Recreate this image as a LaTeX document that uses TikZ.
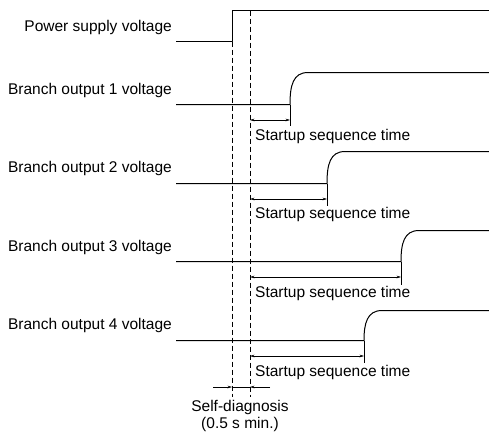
\documentclass[tikz,border=0pt]{standalone}
\usepackage{fontspec}
\setmainfont{Liberation Sans}
\usetikzlibrary{arrows.meta}
\begin{document}
\begin{tikzpicture}[x=1pt,y=-1pt,
  signal/.style={line width=1pt,line join=round},
  guide/.style={line width=0.7pt,dash pattern=on 5pt off 3pt},
  dimline/.style={line width=0.6pt},
  tip/.style={-{Stealth[length=4.5pt,width=2.6pt]}},
  twotip/.style={{Stealth[length=4.5pt,width=2.6pt]}-{Stealth[length=4.5pt,width=2.6pt]}},
  label/.style={font=\fontsize{15.5}{17}\selectfont,inner sep=0pt},
  sidelabel/.style={label,anchor=east}]
\useasboundingbox (0,0) rectangle (489,437);

% time markers: power-on edge and end of self-diagnosis
\coordinate (t0top) at (232,10.5);
\coordinate (t0low) at (232,41.5);
\coordinate (t0bot) at (232,397);
\coordinate (t1top) at (250,10.5);
\coordinate (t1bot) at (250,397);

% power supply trace
\node[sidelabel] (psl) at (172,27) {Power supply voltage};
\coordinate (ps0) at (176,41.5);
\coordinate (ps1) at (489,10.5);
\draw[signal] (ps0) -- (t0low) -- (t0top) -- (ps1);

% dashed guides
\draw[guide] (t0low) -- (t0bot);
\draw[guide] (t1top) -- (t1bot);

% branch outputs: label y, low y, high y, rise x, arrow y, tick end y, text y
\foreach \n/\ly/\lo/\hi/\rx/\ay/\tk/\ty in
  {1/90/104.5/72.5/290/120/126/136,
   2/168/183.5/151.5/327/199/206/214,
   3/247/261.5/230.5/401/277/285/293,
   4/325/340.5/310.5/364/356/363/372}{
  \node[sidelabel] (bl\n) at (172,\ly) {Branch output \n\ voltage};
  \coordinate (b\n s) at (176,\lo);
  \coordinate (b\n r) at (\rx,\lo);
  \coordinate (b\n h) at (\rx+18,\hi);
  \coordinate (b\n e) at (489,\hi);
  \draw[signal] (b\n s) -- (b\n r)
    .. controls (\rx,\hi+13) and (\rx+3,\hi) .. (b\n h) -- (b\n e);
  % startup sequence time dimension
  \coordinate (a\n l) at (250,\ay);
  \coordinate (a\n r) at (\rx,\ay);
  \coordinate (a\n t) at (\rx,\tk);
  \draw[dimline] (b\n r) -- (a\n t);
  \draw[dimline,twotip] (a\n l) -- (a\n r);
  \node[label,anchor=west] (st\n) at (255,\ty) {Startup sequence time};
}

% self-diagnosis dimension
\coordinate (sd0) at (213,387);
\coordinate (sd1) at (232,387);
\coordinate (sd2) at (250,387);
\coordinate (sd3) at (270,387);
\draw[dimline,tip] (sd0) -- (sd1);
\draw[dimline,tip] (sd3) -- (sd2);
\draw[dimline] (sd1) -- (sd2);
\node[label,align=center] (sdl) at (240,416) {Self-diagnosis\\(0.5 s min.)};
\end{tikzpicture}
\end{document}
